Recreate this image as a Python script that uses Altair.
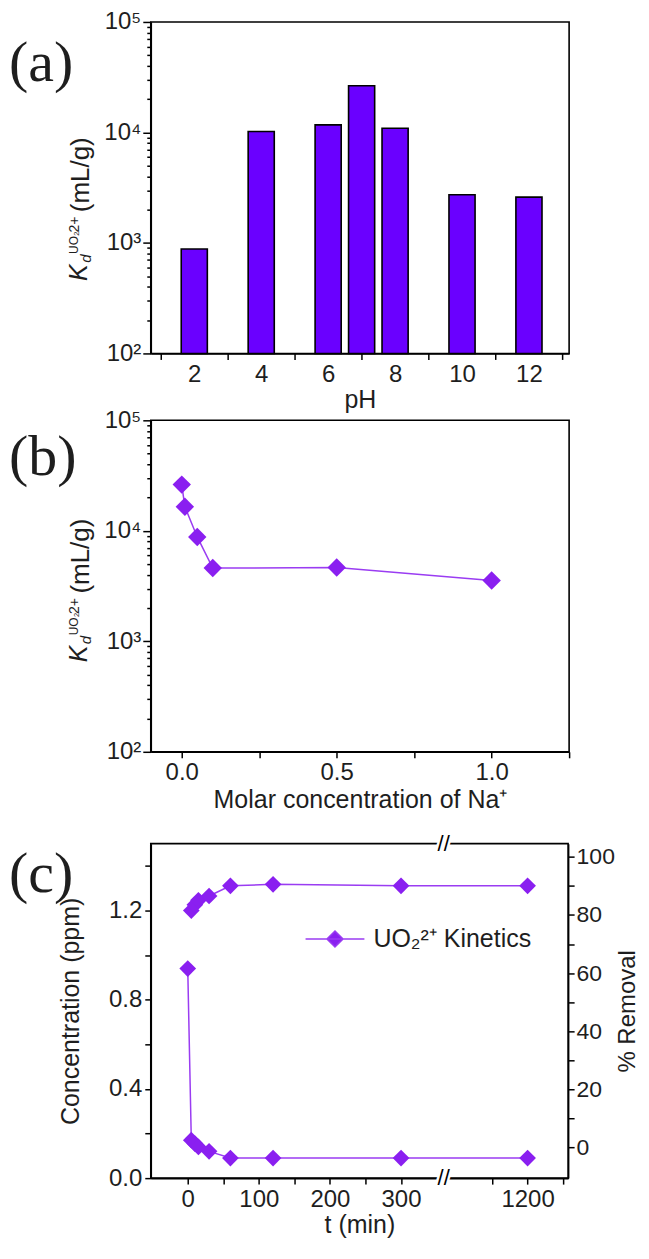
import altair as alt
import pandas as pd

# ---------------- data ----------------
PH = [2, 4, 6, 7, 8, 10, 12]
KD_PH = [880, 10200, 11700, 26500, 10900, 2730, 2600]

NA_M = [0.0, 0.01, 0.05, 0.1, 0.5, 1.0]
KD_NA = [26200, 16500, 8800, 4600, 4650, 3550]

T_CONC = [0, 5, 10, 15, 30, 60, 120, 300, 1200]
CONC = [0.94, 0.17, 0.155, 0.14, 0.12, 0.09, 0.09, 0.09, 0.09]
T_REM = [5, 10, 15, 30, 60, 120, 300, 1200]
REMOVAL = [81.5, 83.5, 85.0, 86.5, 90.0, 90.5, 90.0, 90.0]

PH_LABELS = [2, 4, 6, 8, 10, 12]
PH_TICKS = [1, 3, 5, 7, 9, 11, 13]
NA_TICKS = [0.0, 0.25, 0.5, 0.75, 1.0, 1.25]
NA_LABELS = [0.0, 0.5, 1.0]
T_TICKS = [0, 50, 100, 150, 200, 250, 300, 1150, 1200, 1250]
T_LABELS = [0, 100, 200, 300, 1200]
CONC_TICKS = [0.0, 0.2, 0.4, 0.6, 0.8, 1.0, 1.2, 1.4]
CONC_LABELS = [0.0, 0.4, 0.8, 1.2]
REM_TICKS = [0, 10, 20, 30, 40, 50, 60, 70, 80, 90, 100]
REM_LABELS = [0, 20, 40, 60, 80, 100]
LOG_MAJOR = [100, 1000, 10000, 100000]
LOG_TICKS = [m * 10 ** e for e in (2, 3, 4) for m in range(1, 10)] + [100000]
SUP = {100: "10²", 1000: "10³", 10000: "10⁴", 100000: "10⁵"}
LEGEND_LABEL = "UO₂²⁺ Kinetics"

# ---------------- style ----------------
FONT = "Liberation Sans"
SERIF = "Liberation Serif"
TXT = "#1e1e1e"
BAR_C = "#6a00ff"
MARK_C = "#8a1ff0"
LINE_C = "#9a3cf2"
BAR_HALF = 0.39
SEG1_END = 360      # axis break: first segment ends here
SEG2_START = 1082   # second segment starts here
W_AB, W_C = 419, 418
H_AB, H_C = 332, 335
GAP_AB, GAP_BC = 67, 92


def tpos(t):
    return t if t <= SEG1_END else t - SEG2_START + SEG1_END


def label_expr(mapping):
    expr = "''"
    for k, v in mapping.items():
        expr = f"datum.value == {k} ? '{v}' : ({expr})"
    return expr


def text_piece(txt, x, y, size, style="normal", angle=270, font=FONT, align="center"):
    return alt.Chart(pd.DataFrame({"s": [txt]})).mark_text(
        angle=angle, fontSize=size, fontStyle=style, font=font,
        align=align, baseline="middle", color=TXT
    ).encode(text="s:N", x=alt.value(x), y=alt.value(y))


def kd_title(dy):
    return [
        text_piece("K", -72, 234 + dy, 25, "italic"),
        text_piece("d", -65, 220 + dy, 15, "italic"),
        text_piece("UO₂", -77, 204 + dy, 12),
        text_piece("2+", -76, 186 + dy, 14),
        text_piece("(mL/g)", -70, 136 + dy, 26),
    ]


def spacer(h):
    return alt.Chart(pd.DataFrame({"s": [""]})).mark_text(opacity=0).encode(
        text="s:N").properties(width=1, height=h, view=alt.ViewBackground(strokeOpacity=0))


log_y_axis = alt.Axis(
    values=LOG_TICKS,
    labelExpr=label_expr(SUP),
    tickSize={"condition": {"test": f"indexof({LOG_MAJOR}, datum.value) >= 0", "value": 8}, "value": 4},
    title=None,
    labelPadding=2,
)

# ---------------- panel (a) ----------------
dfA = pd.DataFrame({"pH": PH, "kd": KD_PH})
barsA = alt.Chart(dfA).transform_calculate(
    lo=f"datum.pH - {BAR_HALF}", hi=f"datum.pH + {BAR_HALF}"
).mark_bar(color=BAR_C, stroke="black", strokeWidth=1.6).encode(
    x=alt.X("lo:Q", scale=alt.Scale(domain=[0.7, 13.2], nice=False, zero=False),
            axis=alt.Axis(
                values=sorted(PH_TICKS + PH_LABELS),
                labelExpr=f"indexof({PH_LABELS}, datum.value) >= 0 ? datum.label : ''",
                tickOpacity={"condition": {"test": f"indexof({PH_LABELS}, datum.value) >= 0", "value": 0}, "value": 1},
                tickSize=6, title="pH", titlePadding=1)),
    x2="hi:Q",
    y=alt.Y("kd:Q", scale=alt.Scale(type="log", domain=[100, 100000], nice=False), axis=log_y_axis),
    y2=alt.datum(100),
)
panelA = alt.layer(barsA, *kd_title(17), text_piece("(a)", -142, 42, 58, angle=0, font=SERIF, align="left")
                   ).properties(width=W_AB, height=H_AB)

# ---------------- panel (b) ----------------
dfB = pd.DataFrame({"na": NA_M, "kd": KD_NA})
xB = alt.X("na:Q", scale=alt.Scale(domain=[-0.1, 1.25], nice=False, zero=False),
           axis=alt.Axis(values=NA_TICKS,
                         labelExpr=f"indexof({NA_LABELS}, datum.value) >= 0 ? format(datum.value, '.1f') : ''",
                         tickSize=6, title="Molar concentration of Na⁺", titlePadding=3))
yB = alt.Y("kd:Q", scale=alt.Scale(type="log", domain=[100, 100000], nice=False), axis=log_y_axis)
lineB = alt.Chart(dfB).mark_line(color=LINE_C, strokeWidth=1.5).encode(x=xB, y=yB)
ptsB = alt.Chart(dfB).mark_point(shape="diamond", filled=True, size=340, color=MARK_C, opacity=1).encode(x=xB, y=yB)
panelB = alt.layer(lineB, ptsB, *kd_title(0), text_piece("(b)", -142, 38, 58, angle=0, font=SERIF, align="left")
                   ).properties(width=W_AB, height=H_AB)

# ---------------- panel (c) ----------------
dfC1 = pd.DataFrame({"t": T_CONC, "v": CONC, "series": LEGEND_LABEL})
dfC2 = pd.DataFrame({"t": T_REM, "v": REMOVAL, "series": LEGEND_LABEL})
pos_calc = f"datum.t <= {SEG1_END} ? datum.t : datum.t - {SEG2_START - SEG1_END}"

xC = alt.X("pos:Q", scale=alt.Scale(domain=[-52, 535], nice=False, zero=False),
           axis=alt.Axis(values=[tpos(t) for t in T_TICKS],
                         labelExpr=label_expr({tpos(t): str(t) for t in T_LABELS}),
                         tickSize=6, title="t (min)", titlePadding=1))
yC1 = alt.Y("v:Q", scale=alt.Scale(domain=[0, 1.5], nice=False),
            axis=alt.Axis(orient="left", values=CONC_TICKS,
                          labelExpr=f"indexof({CONC_LABELS}, datum.value) >= 0 ? format(datum.value, '.1f') : ''",
                          tickSize=6, title="Concentration (ppm)", titlePadding=25))
yC2 = alt.Y("v:Q", scale=alt.Scale(domain=[-10.5, 104.5], nice=False, zero=False),
            axis=alt.Axis(orient="right", values=REM_TICKS,
                          labelExpr=f"indexof({REM_LABELS}, datum.value) >= 0 ? datum.label : ''",
                          tickSize=6, labelPadding=2, labelFontSize=23, title="% Removal", titleAngle=270,
                          titleBaseline="top", titlePadding=1, titleFontSize=24))

# legends are lifted to the top-level group, so offset by the panels above
C_TOP = H_AB + GAP_AB + H_AB + GAP_BC
legend = alt.Legend(
    orient="none", legendX=170, legendY=C_TOP + 81, padding=0, title=None,
    symbolType="M-2.2,0H2.2M0,-0.6L0.6,0L0,0.6L-0.6,0Z", symbolSize=718,
    labelOffset=24, labelFontSize=25, labelFont=FONT, labelColor=TXT,
    symbolStrokeWidth=1.5, symbolStrokeColor=LINE_C, symbolFillColor=MARK_C,
)
colorC = alt.Color("series:N", scale=alt.Scale(range=[MARK_C]), legend=legend)

concC = alt.layer(
    alt.Chart(dfC1).transform_calculate(pos=pos_calc).mark_line(color=LINE_C, strokeWidth=1.5).encode(x=xC, y=yC1),
    alt.Chart(dfC1).transform_calculate(pos=pos_calc).mark_point(shape="diamond", filled=True, size=280, opacity=1)
    .encode(x=xC, y=yC1, color=colorC),
)
remC = alt.layer(
    alt.Chart(dfC2).transform_calculate(pos=pos_calc).mark_line(color=LINE_C, strokeWidth=1.5).encode(x=xC, y=yC2),
    alt.Chart(dfC2).transform_calculate(pos=pos_calc).mark_point(shape="diamond", filled=True, size=280, opacity=1)
    .encode(x=xC, y=yC2, color=colorC),
)

brk_df = pd.DataFrame({"pos": [SEG1_END], "s": ["//"]})
brk_layers = []
for yv in (0, H_C):
    brk_layers.append(alt.Chart(brk_df).mark_text(fontSize=22, font=FONT, stroke="white", strokeWidth=5,
                                                  color="white", baseline="middle")
                      .encode(x=alt.X("pos:Q"), y=alt.value(yv), text="s:N"))
    brk_layers.append(alt.Chart(brk_df).mark_text(fontSize=22, font=FONT, color="black", baseline="middle")
                      .encode(x=alt.X("pos:Q"), y=alt.value(yv), text="s:N"))

panelC = alt.layer(
    concC, remC, *brk_layers,
    text_piece("(c)", -142, 31, 58, angle=0, font=SERIF, align="left"),
).resolve_scale(y="independent").properties(width=W_C, height=H_C)

chart = alt.vconcat(panelA, spacer(GAP_AB), panelB, spacer(GAP_BC), panelC,
                    spacing=0, bounds="flush", padding=0).configure_axis(
    domainColor="black", domainWidth=1.6, tickColor="black", tickWidth=1.5,
    labelFont=FONT, labelFontSize=24, labelColor=TXT,
    titleFont=FONT, titleFontSize=25, titleFontWeight="normal", titleColor=TXT,
    grid=False, labelPadding=3,
).configure_view(stroke="black", strokeWidth=1.6)

chart.save("out.html", embed_options={"renderer": "svg", "actions": False})
